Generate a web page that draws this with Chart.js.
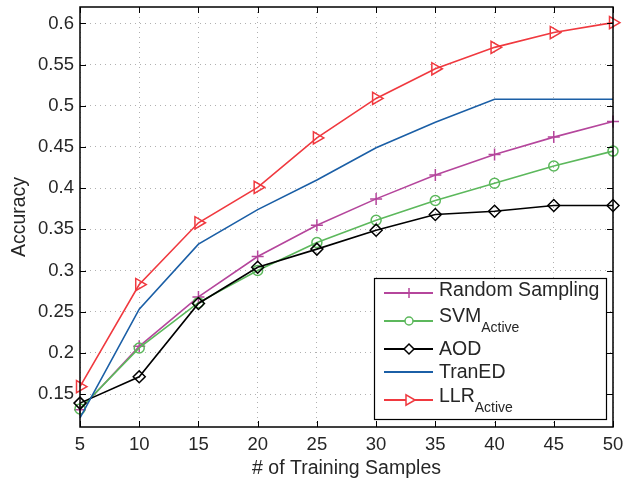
<!DOCTYPE html>
<html>
<head>
<meta charset="utf-8">
<script src="https://cdn.jsdelivr.net/npm/chart.js@4"></script>
<style>
  html, body { margin: 0; padding: 0; background: #fff; }
  #wrap { width: 638px; height: 480px; }
</style>
</head>
<body>
<div id="wrap"><canvas id="chart" width="638" height="480"></canvas></div>
<script>
// ── Data ─────────────────────────────────────────────────────
const SAMPLES  = [5, 10, 15, 20, 25, 30, 35, 40, 45, 50];
const Y_TICKS  = [0.15, 0.2, 0.25, 0.3, 0.35, 0.4, 0.45, 0.5, 0.55, 0.6];

const randomSampling = [0.131, 0.208, 0.268, 0.317, 0.355, 0.387, 0.416, 0.441, 0.462, 0.481];
const svmActive      = [0.132, 0.206, 0.261, 0.300, 0.334, 0.361, 0.385, 0.406, 0.427, 0.445];
const aod            = [0.139, 0.171, 0.260, 0.304, 0.326, 0.349, 0.368, 0.372, 0.379, 0.379];
const tranED         = [0.121, 0.253, 0.332, 0.374, 0.410, 0.449, 0.480, 0.508, 0.508, 0.508];
const llrActive      = [0.159, 0.283, 0.358, 0.401, 0.461, 0.509, 0.545, 0.571, 0.589, 0.601];

// ── Palette ──────────────────────────────────────────────────
const COLORS = {
  magenta: '#b5469c',
  green:   '#5cb85c',
  black:   '#000000',
  blue:    '#1b5fa6',
  red:     '#f0393f',
  grid:    '#b0b0b0',
  text:    '#262626',
};
const FONT = 'Liberation Sans, Arial, Helvetica, sans-serif';

const SERIES = [
  { label: 'Random Sampling', sub: '',       data: randomSampling, color: COLORS.magenta, point: 'cross',   radius: 6, rot: 0 },
  { label: 'SVM',             sub: 'Active', data: svmActive,      color: COLORS.green,   point: 'circle',  radius: 5, rot: 0 },
  { label: 'AOD',             sub: '',       data: aod,            color: COLORS.black,   point: 'rectRot', radius: 6, rot: 0 },
  { label: 'TranED',          sub: '',       data: tranED,         color: COLORS.blue,    point: false,     radius: 0, rot: 0 },
  { label: 'LLR',             sub: 'Active', data: llrActive,      color: COLORS.red,     point: 'triangle',radius: 7, rot: 90 },
];

// legend row geometry: line y, text centre y, subscript centre y
const LEGEND_ROWS = [[293, 291, 0], [321, 317, 328], [349, 349.5, 0], [372, 372.5, 0], [400, 397, 408]];

// ── Frame, inward ticks and legend (MATLAB look) ─────────────
const matlabFrame = {
  id: 'matlabFrame',
  afterDatasetsDraw(chart) {
    const { ctx, chartArea: a, scales: { x, y } } = chart;
    ctx.save();
    ctx.strokeStyle = '#000';
    ctx.lineWidth = 1;
    ctx.beginPath();
    SAMPLES.forEach((v, i) => {
      const px = Math.round(x.getPixelForValue(i)) + 0.5;
      ctx.moveTo(px, a.bottom); ctx.lineTo(px, a.bottom - 6);
      ctx.moveTo(px, a.top);    ctx.lineTo(px, a.top + 6);
    });
    Y_TICKS.forEach(v => {
      const py = Math.round(y.getPixelForValue(v)) + 0.5;
      ctx.moveTo(a.left, py);  ctx.lineTo(a.left + 6, py);
      ctx.moveTo(a.right, py); ctx.lineTo(a.right - 6, py);
    });
    ctx.stroke();
    ctx.lineWidth = 1.5;
    ctx.strokeRect(a.left, a.top, a.right - a.left, a.bottom - a.top);
    ctx.restore();
  },
  afterDraw(chart) {
    const { ctx } = chart;
    const box = { x: 374, y: 278, w: 232, h: 141 };
    ctx.save();
    ctx.fillStyle = '#fff';
    ctx.fillRect(box.x, box.y, box.w, box.h);
    ctx.strokeStyle = '#000';
    ctx.lineWidth = 1.2;
    ctx.strokeRect(box.x + 0.5, box.y + 0.5, box.w, box.h);
    SERIES.forEach((s, i) => {
      const [ly, ty, sy] = LEGEND_ROWS[i];
      ctx.strokeStyle = s.color;
      ctx.lineWidth = 1.8;
      ctx.beginPath();
      ctx.moveTo(384, ly); ctx.lineTo(433, ly);
      ctx.stroke();
      if (s.point) {
        ctx.fillStyle = '#fff';
        ctx.lineWidth = 1.5;
        Chart.helpers.drawPoint(ctx, {
          pointStyle: s.point, radius: s.radius - 1, rotation: s.rot, borderWidth: 1.5
        }, 409, ly);
      }
      ctx.fillStyle = COLORS.text;
      ctx.textBaseline = 'middle';
      ctx.textAlign = 'left';
      ctx.font = '19.5px ' + FONT;
      ctx.fillText(s.label, 439, ty);
      if (s.sub) {
        const w = ctx.measureText(s.label).width;
        ctx.font = '14px ' + FONT;
        ctx.fillText(s.sub, 439 + w, sy);
      }
    });
    ctx.restore();
  }
};

// ── Chart ────────────────────────────────────────────────────
new Chart(document.getElementById('chart'), {
  type: 'line',
  data: {
    labels: SAMPLES,
    datasets: SERIES.map((s, i) => ({
      label: s.sub ? s.label + s.sub : s.label,
      data: s.data,
      borderColor: s.color,
      backgroundColor: 'rgba(0,0,0,0)',
      borderWidth: 1.6,
      pointStyle: s.point,
      pointRadius: s.radius,
      pointRotation: s.rot,
      pointBorderColor: s.color,
      pointBackgroundColor: 'rgba(0,0,0,0)',
      pointBorderWidth: 1.5,
      tension: 0,
      order: SERIES.length - i,
    }))
  },
  options: {
    responsive: false,
    animation: false,
    layout: { autoPadding: false, padding: { top: 7, right: 25, left: 0, bottom: 0 } },
    plugins: { legend: { display: false }, tooltip: { enabled: false } },
    scales: {
      x: {
        offset: false,
        grid: { color: COLORS.grid, lineWidth: 1, drawTicks: false },
        border: { display: false, dash: [1, 4] },
        ticks: { color: COLORS.text, font: { family: FONT, size: 18.5 }, padding: 7, maxRotation: 0, autoSkip: false },
        title: { display: true, text: '# of Training Samples', color: COLORS.text, font: { family: FONT, size: 19.5 }, padding: { top: 0, bottom: 0 } },
        afterFit: s => { s.height = 53; s.paddingLeft = 0; s.paddingRight = 0; },
      },
      y: {
        min: 0.11,
        max: 0.62,
        afterBuildTicks: s => { s.ticks = Y_TICKS.map(v => ({ value: v })); },
        grid: { color: COLORS.grid, lineWidth: 1, drawTicks: false },
        border: { display: false, dash: [1, 4] },
        ticks: { color: COLORS.text, font: { family: FONT, size: 18.5 }, padding: 6, callback: v => String(+v.toFixed(2)) },
        title: { display: true, text: 'Accuracy', color: COLORS.text, font: { family: FONT, size: 19.5 }, padding: { top: 8, bottom: 0 } },
        afterFit: s => { s.width = 80; s.paddingTop = 0; s.paddingBottom = 0; },
      }
    }
  },
  plugins: [matlabFrame]
});
</script>
</body>
</html>
